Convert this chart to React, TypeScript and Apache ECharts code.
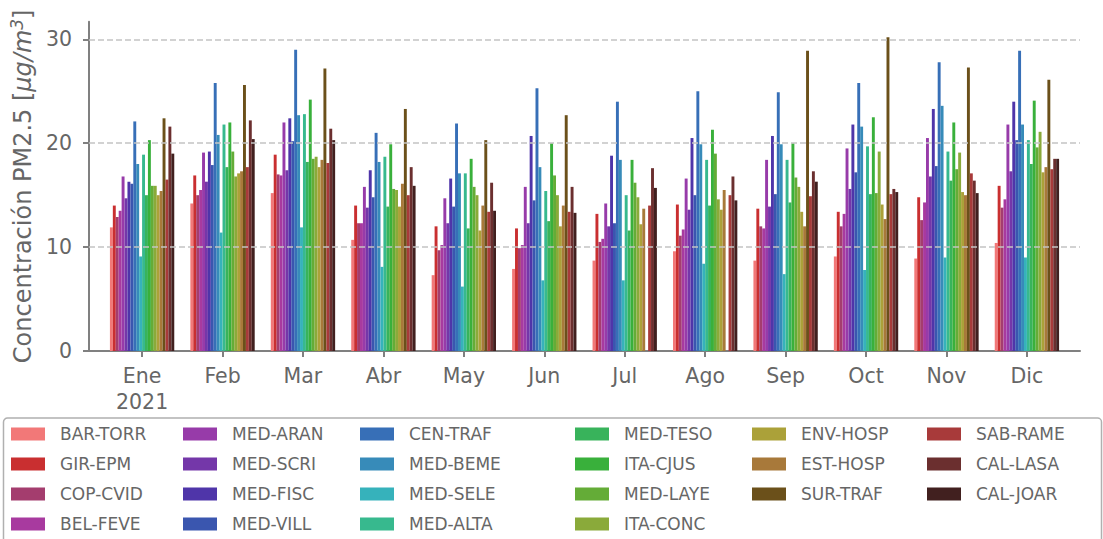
import React, { useEffect, useRef } from "react";
import * as echarts from "echarts";

const months = ["Ene", "Feb", "Mar", "Abr", "May", "Jun", "Jul", "Ago", "Sep", "Oct", "Nov", "Dic"];
const yearLabel = "2021";
const yTicks = [0, 10, 20, 30];

const BAR_TORR = [11.9, 14.2, 15.2, 10.7, 7.3, 7.9, 8.7, 9.6, 8.7, 9.1, 8.9, 10.4];
const GIR_EPM = [14.0, 16.9, 18.9, 14.0, 12.0, 11.8, 13.2, 14.1, 13.7, 13.4, 14.8, 15.9];
const COP_CVID = [12.9, 15.0, 17.0, 12.3, 9.7, 9.9, 10.5, 11.1, 12.0, 12.0, 12.6, 13.8];
const BEL_FEVE = [13.5, 15.5, 16.9, 12.3, 10.2, 10.2, 10.8, 11.7, 11.8, 13.2, 14.3, 14.6];
const MED_ARAN = [16.8, 19.1, 22.0, 15.8, 14.7, 15.8, 14.2, 16.6, 18.4, 19.5, 20.5, 21.8];
const MED_SCRI = [14.7, 16.3, 17.4, 13.8, 12.3, 12.3, 12.0, 13.6, 13.9, 15.6, 16.8, 17.3];
const MED_FISC = [16.3, 19.2, 22.4, 17.4, 16.6, 20.7, 18.8, 20.5, 20.7, 21.8, 23.3, 24.0];
const MED_VILL = [16.1, 17.9, 20.2, 14.8, 13.9, 14.5, 12.3, 15.0, 15.1, 17.2, 17.8, 20.3];
const CEN_TRAF = [22.1, 25.8, 29.0, 21.0, 21.9, 25.3, 24.0, 25.0, 24.9, 25.8, 27.8, 28.9];
const MED_BEME = [18.0, 20.8, 22.7, 18.2, 17.1, 17.7, 18.4, 19.9, 19.9, 21.6, 23.6, 21.8];
const MED_SELE = [9.1, 11.4, 11.9, 8.1, 6.2, 6.8, 6.8, 8.4, 7.4, 7.8, 9.0, 9.0];
const MED_ALTA = [18.9, 21.8, 22.8, 18.7, 17.1, 15.4, 15.0, 18.4, 18.4, 19.7, 19.2, 20.3];
const MED_TESO = [15.0, 17.7, 18.2, 13.9, 11.8, 12.5, 11.6, 14.0, 14.3, 15.1, 16.4, 18.0];
const ITA_CJUS = [20.3, 22.0, 24.2, 19.9, 18.5, 20.0, 18.4, 21.3, 20.0, 22.5, 22.0, 24.1];
const MED_LAYE = [15.9, 19.2, 18.5, 15.6, 15.8, 16.9, 16.2, 19.0, 16.7, 15.2, 17.5, 19.6];
const ITA_CONC = [15.9, 16.8, 18.7, 15.5, 15.0, 15.0, 14.8, 14.6, 15.8, 19.2, 19.1, 21.1];
const ENV_HOSP = [15.0, 17.1, 17.7, 13.9, 11.6, 12.0, 12.2, 13.6, 13.4, 14.1, 15.3, 17.2];
const EST_HOSP = [15.4, 17.3, 18.4, 16.1, 14.0, 14.0, 13.7, 15.5, 12.0, 12.7, 15.0, 17.7];
const SUR_TRAF = [22.4, 25.6, 27.2, 23.3, 20.3, 22.7, null, null, 28.9, 30.2, 27.3, 26.1];
const SAB_RAME = [16.5, 17.7, 18.1, 15.0, 13.4, 13.4, 14.0, 15.0, 14.9, 15.1, 17.1, 17.5];
const CAL_LASA = [21.6, 22.2, 21.4, 17.7, 16.2, 15.8, 17.6, 16.8, 17.3, 15.6, 16.4, 18.5];
const CAL_JOAR = [19.0, 20.4, 20.3, 15.9, 13.5, 13.3, 15.7, 14.5, 16.3, 15.3, 15.2, 18.5];

const stations = [
  "BAR-TORR", "GIR-EPM", "COP-CVID", "BEL-FEVE", "MED-ARAN", "MED-SCRI", "MED-FISC", "MED-VILL",
  "CEN-TRAF", "MED-BEME", "MED-SELE", "MED-ALTA", "MED-TESO", "ITA-CJUS", "MED-LAYE", "ITA-CONC",
  "ENV-HOSP", "EST-HOSP", "SUR-TRAF", "SAB-RAME", "CAL-LASA", "CAL-JOAR",
];
const stationValues = [
  BAR_TORR, GIR_EPM, COP_CVID, BEL_FEVE, MED_ARAN, MED_SCRI, MED_FISC, MED_VILL,
  CEN_TRAF, MED_BEME, MED_SELE, MED_ALTA, MED_TESO, ITA_CJUS, MED_LAYE, ITA_CONC,
  ENV_HOSP, EST_HOSP, SUR_TRAF, SAB_RAME, CAL_LASA, CAL_JOAR,
];
const colors = [
  "#f27878", "#c92f30", "#a43d6e", "#a83a9f", "#973ba9", "#7437a9", "#4f35a9", "#3a56af",
  "#376fb7", "#378bb9", "#36b2bb", "#37b98e", "#38b35b", "#39b03b", "#64ac37", "#8aaa3a",
  "#aba139", "#a8793a", "#6b501a", "#a83a3a", "#6b2f2f", "#41201f",
];
const legendColumns = [
  ["BAR-TORR", "GIR-EPM", "COP-CVID", "BEL-FEVE"],
  ["MED-ARAN", "MED-SCRI", "MED-FISC", "MED-VILL"],
  ["CEN-TRAF", "MED-BEME", "MED-SELE", "MED-ALTA"],
  ["MED-TESO", "ITA-CJUS", "MED-LAYE", "ITA-CONC"],
  ["ENV-HOSP", "EST-HOSP", "SUR-TRAF"],
  ["SAB-RAME", "CAL-LASA", "CAL-JOAR"],
];
const legendLefts = [11, 183, 360, 575, 752, 927];

const FONT = "DejaVu Sans";
const TXT = "#666666";
const AX = "#808080";

export default function App() {
  const ref = useRef<HTMLDivElement>(null);
  useEffect(() => {
    if (!ref.current) return;
    const chart = echarts.init(ref.current, null, { renderer: "svg" });
    const monthIdx = months.map((_, i) => i);
    const series: any[] = stations.map((name, s) => ({
      type: "bar",
      name,
      barGap: "0%",
      barCategoryGap: "20%",
      itemStyle: { color: colors[s] },
      data: stationValues[s]
        .map((v, i) => (v === null ? null : [i, v]))
        .filter((d) => d !== null),
    }));
    series.push({
      type: "line",
      name: "grid",
      data: [],
      z: 5,
      silent: true,
      markLine: {
        silent: true,
        symbol: "none",
        label: { show: false },
        lineStyle: { color: "#c4c4c4", width: 1.5, type: [6, 3] },
        data: yTicks.filter((t) => t > 0).map((t) => ({ yAxis: t })),
      },
    });
    chart.setOption({
      animation: false,
      textStyle: { fontFamily: FONT },
      grid: { left: 89, right: 23, top: 21.7, bottom: 188, containLabel: false },
      xAxis: {
        type: "value",
        min: -0.66,
        max: 11.66,
        splitLine: { show: false },
        axisLine: { onZero: false, lineStyle: { color: AX, width: 2 } },
        axisTick: { customValues: monthIdx, length: 6, lineStyle: { color: AX, width: 2 } },
        axisLabel: {
          customValues: monthIdx,
          color: TXT,
          fontSize: 20.5,
          lineHeight: 26,
          margin: 12,
          fontFamily: FONT,
          formatter: (v: number) => {
            const i = Math.round(v);
            return i === 0 ? months[i] + "\n" + yearLabel : months[i];
          },
        },
      },
      yAxis: {
        type: "value",
        min: 0,
        max: 31.7,
        splitLine: { show: false },
        axisLine: { show: true, onZero: false, lineStyle: { color: AX, width: 2 } },
        axisTick: { show: true, customValues: yTicks, length: 6, lineStyle: { color: AX, width: 2 } },
        axisLabel: { customValues: yTicks, color: TXT, fontSize: 20.5, margin: 17, fontFamily: FONT },
        name: "{a|Concentración PM2.5 [}{i|μg/m}{s|3}{a|]}",
        nameLocation: "middle",
        nameGap: 48,
        nameRotate: 90,
        nameTextStyle: {
          rich: {
            a: { fontSize: 24, color: TXT, fontFamily: FONT },
            i: { fontSize: 24, color: TXT, fontFamily: FONT, fontStyle: "italic" },
            s: { fontSize: 17, color: TXT, fontFamily: FONT, fontStyle: "italic", padding: [0, 0, 12, 0] },
          },
        },
      },
      legend: legendColumns.map((col, c) => ({
        data: col,
        orient: "vertical",
        left: legendLefts[c],
        top: 424,
        height: 200,
        padding: 0,
        itemWidth: 34,
        itemHeight: 13,
        itemGap: 10,
        icon: "rect",
        selectedMode: false,
        textStyle: { color: TXT, fontSize: 17, fontFamily: FONT, lineHeight: 20, padding: [0, 0, 0, 10] },
      })),
      graphic: [
        {
          type: "rect",
          shape: { x: 3.5, y: 418, width: 1098, height: 140, r: 4 },
          style: { fill: "none", stroke: "#b0b0b0", lineWidth: 1.5 },
          silent: true,
        },
      ],
      series,
    });
    return () => chart.dispose();
  }, []);
  return (
    <div
      ref={ref}
      style={{ position: "fixed", left: 0, top: 0, width: 1103, height: 539, background: "#fff" }}
    />
  );
}
